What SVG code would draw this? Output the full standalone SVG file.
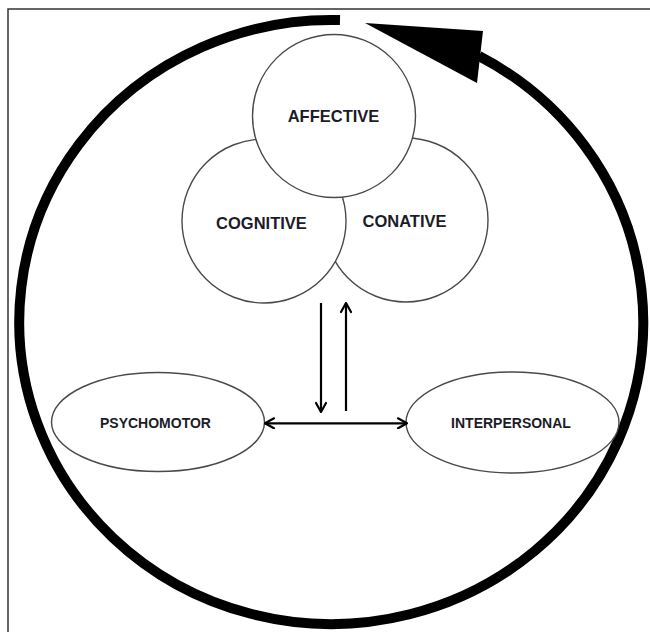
<svg xmlns="http://www.w3.org/2000/svg" width="650" height="632" viewBox="0 0 650 632">
  <style>
    .node { fill: #ffffff; stroke: #4a4a4a; stroke-width: 1.4; }
    .lbl { font-family: "Liberation Sans", Arial, sans-serif; font-weight: bold; fill: #1c1c28; text-anchor: middle; }
    .big { font-size: 16.5px; }
    .small { font-size: 14px; }
    .conn { stroke: #000000; stroke-width: 2.2; fill: none; }
    .cycle { stroke: #000000; stroke-width: 10; fill: none; }
  </style>
  <defs>
    <marker id="chev" viewBox="0 0 12 12" refX="11" refY="6" markerWidth="12" markerHeight="12" markerUnits="userSpaceOnUse" orient="auto-start-reverse">
      <path d="M2,1 L11,6 L2,11" fill="none" stroke="#000000" stroke-width="2.2" stroke-linejoin="round" stroke-linecap="round"/>
    </marker>
  </defs>
  <rect x="0" y="0" width="650" height="632" fill="#ffffff"/>
  <g id="frame">
    <path d="M8,640 L8,9 L660,9" fill="none" stroke="#333333" stroke-width="1.5"/>
  </g>
  <g id="cycle">
    <path class="cycle" d="M340,20.1 A312,302 0 1 0 479,56"/>
    <polygon points="365,23 483,31 477,83" fill="#000000"/>
  </g>
  <g id="conative">
    <circle class="node" cx="406" cy="220" r="82"/>
    <text class="lbl big" x="404.5" y="227">CONATIVE</text>
  </g>
  <g id="cognitive">
    <circle class="node" cx="264" cy="221" r="82"/>
    <text class="lbl big" x="261.5" y="228.5">COGNITIVE</text>
  </g>
  <g id="affective">
    <circle class="node" cx="334" cy="116" r="81.5"/>
    <text class="lbl big" x="333.5" y="121.5">AFFECTIVE</text>
  </g>
  <g id="psychomotor">
    <ellipse class="node" cx="158" cy="422" rx="106.5" ry="49.5"/>
    <text class="lbl small" x="155.5" y="427.7">PSYCHOMOTOR</text>
  </g>
  <g id="interpersonal">
    <ellipse class="node" cx="512.5" cy="422.5" rx="106.5" ry="50.5"/>
    <text class="lbl small" x="511" y="428">INTERPERSONAL</text>
  </g>
  <g id="connectors">
    <line class="conn" x1="321" y1="303" x2="321" y2="412" marker-end="url(#chev)"/>
    <line class="conn" x1="346" y1="411" x2="346" y2="303" marker-end="url(#chev)"/>
    <line class="conn" x1="265" y1="423.3" x2="407" y2="423.3" marker-start="url(#chev)" marker-end="url(#chev)"/>
  </g>
</svg>
